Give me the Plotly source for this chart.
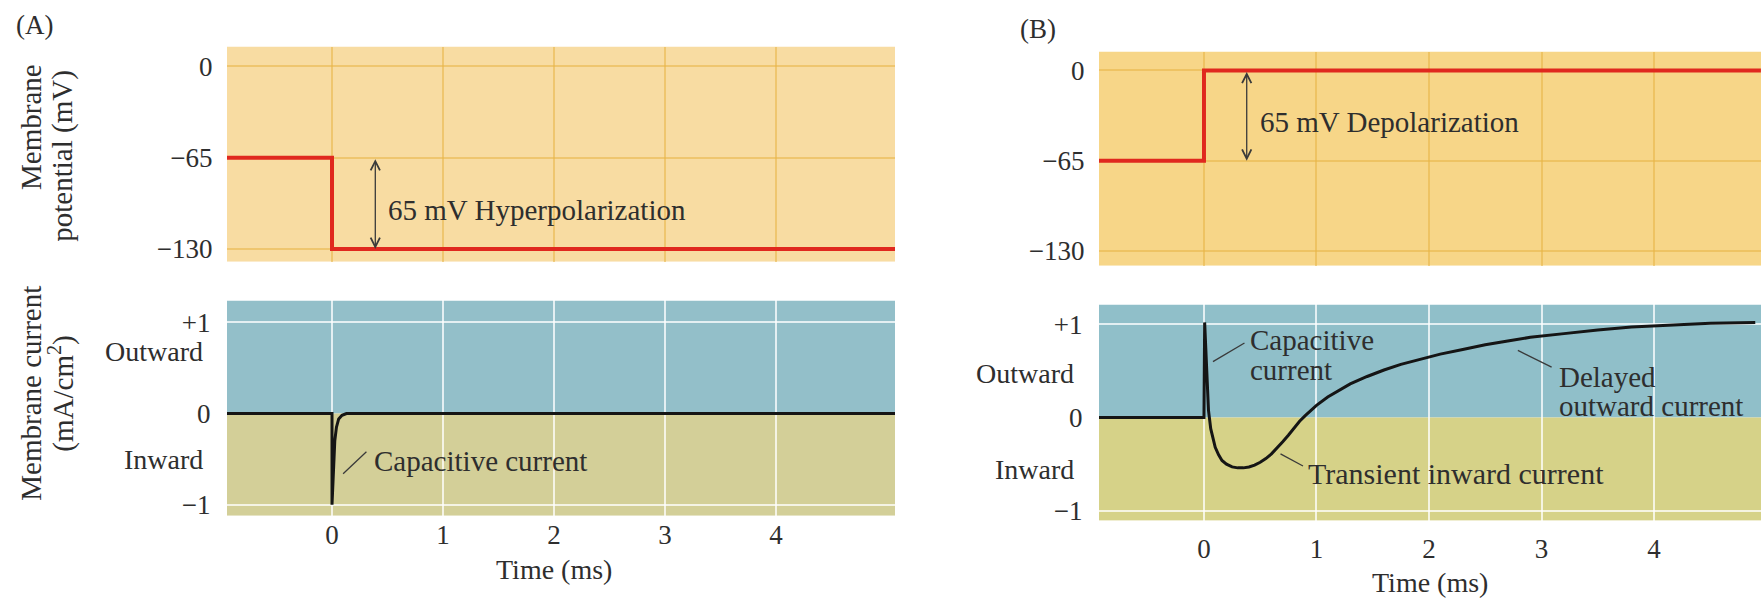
import plotly.graph_objects as go

# ---------------- data ----------------
time_ticks = [0, 1, 2, 3, 4]
volt_ticks = [0, -65, -130]
volt_labels = ["0", "\u221265", "\u2212130"]
cur_ticks = [1, 0, -1]
cur_labels = ["+1", "0", "\u22121"]

# (A) hyperpolarizing step
tA_v = [-1.0, 0.0, 0.0, 5.1]
vA = [-65, -65, -130, -130]
tA_i = [-1.0, 0.0, 0.0, 0.008, 0.015, 0.025, 0.04, 0.06, 0.09, 0.13, 5.1]
iA = [0, 0, -1.0, -0.75, -0.5, -0.3, -0.15, -0.06, -0.02, 0, 0]

# (B) depolarizing step
tB_v = [-1.0, 0.0, 0.0, 4.95]
vB = [-65, -65, 0, 0]
tB_i = [-1.0, 0.0, 0.0, 0.006, 0.02, 0.04, 0.06, 0.08, 0.10, 0.13, 0.16, 0.20, 0.25,
        0.30, 0.35, 0.40, 0.45, 0.50, 0.55, 0.60, 0.65, 0.70, 0.75, 0.80, 0.85, 0.90,
        0.95, 1.00, 1.10, 1.20, 1.30, 1.45, 1.60, 1.75, 1.90, 2.10, 2.30, 2.50, 2.70,
        2.90, 3.20, 3.50, 3.80, 4.10, 4.50, 4.90]
iB = [0, 0, 0.0, 1.02, 0.55, 0.08, -0.12, -0.24, -0.32, -0.40, -0.46, -0.50, -0.53,
      -0.54, -0.54, -0.53, -0.51, -0.48, -0.44, -0.39, -0.33, -0.26, -0.19, -0.11, -0.04, 0.02,
      0.08, 0.13, 0.22, 0.29, 0.36, 0.44, 0.51, 0.57, 0.62, 0.68, 0.73, 0.78, 0.82,
      0.86, 0.90, 0.94, 0.97, 0.99, 1.01, 1.02]

# ---------------- style ----------------
W, H = 1761, 600
FONT = "Liberation Serif"
TXT = "#2e2e2e"
RED = "#e0281e"
BLK = "#151515"

def px_x(p):
    return p / W

def px_y(p):
    return 1 - p / H

# axis ranges (layout)
rx_A = [-0.946, 5.072]
rx_B = [-0.933, 4.951]
ry_vA = [-139.2, 14.1]
ry_vB = [-140.7, 13.6]
ry_iA = [-1.12, 1.239]
ry_iB = [-1.106, 1.213]

fig = go.Figure()
fig.add_trace(go.Scatter(x=tA_v, y=vA, mode="lines", line=dict(color=RED, width=4),
                         xaxis="x", yaxis="y", showlegend=False, hoverinfo="skip"))
fig.add_trace(go.Scatter(x=tB_v, y=vB, mode="lines", line=dict(color=RED, width=4),
                         xaxis="x2", yaxis="y2", showlegend=False, hoverinfo="skip"))
fig.add_trace(go.Scatter(x=tA_i, y=iA, mode="lines", line=dict(color=BLK, width=3),
                         xaxis="x3", yaxis="y3", showlegend=False, hoverinfo="skip"))
fig.add_trace(go.Scatter(x=tB_i, y=iB, mode="lines", line=dict(color=BLK, width=3),
                         xaxis="x4", yaxis="y4", showlegend=False, hoverinfo="skip"))

tickfont = dict(family=FONT, size=27, color=TXT)
top_grid = "rgba(232,180,70,0.55)"
bot_grid = "rgba(255,255,255,0.75)"

def xax(domain, rng, anchor, labels, gridcolor, ticklen):
    return dict(domain=domain, range=rng, anchor=anchor, tickmode="array",
                tickvals=time_ticks, ticktext=[str(v) for v in time_ticks],
                showticklabels=labels, showgrid=True, gridcolor=gridcolor, gridwidth=1.5,
                zeroline=False, showline=False, ticks="outside" if ticklen > 0 else "",
                ticklen=ticklen, tickcolor="rgba(0,0,0,0)", tickfont=tickfont, fixedrange=True)

def yax_v(domain, rng, anchor):
    return dict(domain=domain, range=rng, anchor=anchor, tickmode="array",
                tickvals=volt_ticks, ticktext=volt_labels, showgrid=True,
                gridcolor=top_grid, gridwidth=1.5, zeroline=False, showline=False,
                ticks="outside", ticklen=8, tickcolor="rgba(0,0,0,0)", tickfont=tickfont,
                fixedrange=True)

def yax_i(domain, rng, anchor):
    return dict(domain=domain, range=rng, anchor=anchor, tickmode="array",
                tickvals=cur_ticks, ticktext=cur_labels, showgrid=False,
                zeroline=False, showline=False,
                minor=dict(tickmode="array", tickvals=[-1, 1], showgrid=True,
                           gridcolor=bot_grid, gridwidth=1.5, ticks=""),
                ticks="outside", ticklen=10, tickcolor="rgba(0,0,0,0)", tickfont=tickfont,
                fixedrange=True)

dxA = [px_x(227), px_x(895)]
dxB = [px_x(1099), 1.0]
dyA_top = [px_y(264), px_y(47)]
dyA_bot = [px_y(520), px_y(303)]
dyB_top = [px_y(268), px_y(52)]
dyB_bot = [px_y(525), px_y(307)]

shapes = []
# panel backgrounds
shapes.append(dict(type="rect", xref="x", yref="y", x0=rx_A[0], x1=rx_A[1], y0=ry_vA[0], y1=ry_vA[1],
                   fillcolor="#f8dca2", line=dict(width=0), layer="below"))
shapes.append(dict(type="rect", xref="x2", yref="y2", x0=rx_B[0], x1=rx_B[1], y0=ry_vB[0], y1=ry_vB[1],
                   fillcolor="#f7d688", line=dict(width=0), layer="below"))
shapes.append(dict(type="rect", xref="x3", yref="y3", x0=rx_A[0], x1=rx_A[1], y0=0, y1=ry_iA[1],
                   fillcolor="#93bfc9", line=dict(width=0), layer="below"))
shapes.append(dict(type="rect", xref="x3", yref="y3", x0=rx_A[0], x1=rx_A[1], y0=ry_iA[0], y1=0,
                   fillcolor="#d3cf98", line=dict(width=0), layer="below"))
shapes.append(dict(type="rect", xref="x4", yref="y4", x0=rx_B[0], x1=rx_B[1], y0=0, y1=ry_iB[1],
                   fillcolor="#90bfc9", line=dict(width=0), layer="below"))
shapes.append(dict(type="rect", xref="x4", yref="y4", x0=rx_B[0], x1=rx_B[1], y0=ry_iB[0], y1=0,
                   fillcolor="#d6d288", line=dict(width=0), layer="below"))
# leader lines
lead = dict(color="#3a3a3a", width=1.3)
shapes.append(dict(type="line", xref="x3", yref="y3", x0=0.1, y0=-0.66, x1=0.31, y1=-0.42, line=lead))
shapes.append(dict(type="line", xref="x4", yref="y4", x0=0.08, y0=0.6, x1=0.36, y1=0.8, line=lead))
shapes.append(dict(type="line", xref="x4", yref="y4", x0=0.68, y0=-0.39, x1=0.88, y1=-0.52, line=lead))
shapes.append(dict(type="line", xref="x4", yref="y4", x0=2.79, y0=0.72, x1=3.09, y1=0.54, line=lead))

ann = []

def t(text, x, y, xref="paper", yref="paper", xanchor="left", yanchor="middle", size=29, angle=0):
    ann.append(dict(text=text, x=x, y=y, xref=xref, yref=yref, xanchor=xanchor,
                    yanchor=yanchor, showarrow=False, textangle=angle,
                    font=dict(family=FONT, size=size, color=TXT)))

# panel letters
t("(A)", px_x(14), px_y(25), size=27)
t("(B)", px_x(1018), px_y(29), size=27)
# y-axis titles (A only)
t("Membrane", px_x(31), px_y(128), xanchor="center", angle=-90)
t("potential (mV)", px_x(63), px_y(157), xanchor="center", angle=-90)
t("Membrane current", px_x(31), px_y(397), xanchor="center", angle=-90)
t("(mA/cm<sup>2</sup>)", px_x(62), px_y(397), xanchor="center", angle=-90)
# outward / inward
t("Outward", px_x(205), px_y(354), xanchor="right", size=28)
t("Inward", px_x(205), px_y(463), xanchor="right", size=28)
t("Outward", px_x(1076), px_y(377), xanchor="right", size=28)
t("Inward", px_x(1076), px_y(473), xanchor="right", size=28)
# x titles
t("Time (ms)", px_x(554), px_y(574), xanchor="center", size=28)
t("Time (ms)", px_x(1430), px_y(587), xanchor="center", size=28)
# in-plot labels
t("65 mV Hyperpolarization", 0.49, -102, xref="x", yref="y")
t("65 mV Depolarization", 0.48, -37, xref="x2", yref="y2")
t("Capacitive current", 0.36, -0.52, xref="x3", yref="y3")
t("Capacitive", 0.39, 0.83, xref="x4", yref="y4")
t("current", 0.39, 0.51, xref="x4", yref="y4")
t("Transient inward current", 0.91, -0.6, xref="x4", yref="y4", size=30)
t("Delayed", 3.14, 0.44, xref="x4", yref="y4")
t("outward current", 3.14, 0.12, xref="x4", yref="y4")

# double arrows
for xr, yr, xv, y_a, y_b in [("x", "y", 0.39, -65, -130), ("x2", "y2", 0.38, 0, -65)]:
    ann.append(dict(text="", x=xv, y=y_b, ax=xv, ay=y_a, xref=xr, yref=yr, axref=xr, ayref=yr,
                    showarrow=True, arrowside="end+start", arrowhead=5, startarrowhead=5,
                    arrowsize=1.4, startarrowsize=1.4, arrowwidth=1.3, arrowcolor="#3a3a3a",
                    standoff=0, startstandoff=0))

fig.update_layout(
    width=W, height=H, margin=dict(l=0, r=0, t=0, b=0), autosize=False,
    paper_bgcolor="white", plot_bgcolor="rgba(0,0,0,0)",
    xaxis=xax(dxA, rx_A, "y", False, top_grid, 0),
    yaxis=yax_v(dyA_top, ry_vA, "x"),
    xaxis2=xax(dxB, rx_B, "y2", False, top_grid, 0),
    yaxis2=yax_v(dyB_top, ry_vB, "x2"),
    xaxis3=xax(dxA, rx_A, "y3", True, bot_grid, 0),
    yaxis3=yax_i(dyA_bot, ry_iA, "x3"),
    xaxis4=xax(dxB, rx_B, "y4", True, bot_grid, 4),
    yaxis4=yax_i(dyB_bot, ry_iB, "x4"),
    shapes=shapes, annotations=ann, showlegend=False,
)

fig.write_html("out.html")
